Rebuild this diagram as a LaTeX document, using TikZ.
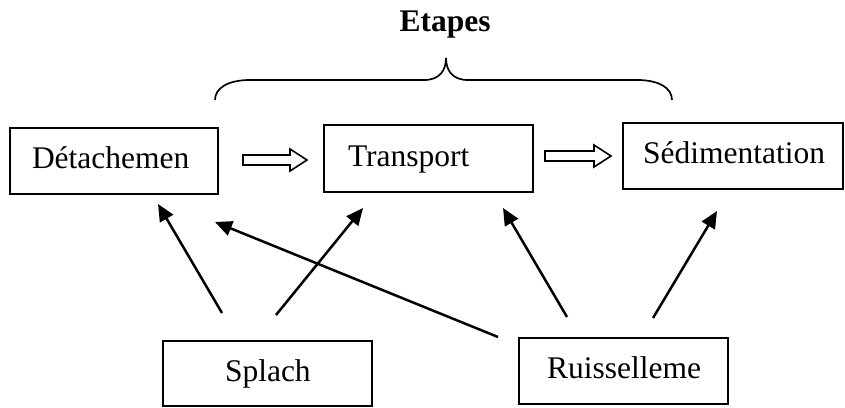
\documentclass[tikz,border=0pt]{standalone}
\usepackage{fontspec}
\setmainfont{Liberation Serif}
\usetikzlibrary{arrows.meta,calc}
\newcommand{\hollowarr}[2]{%
  \draw[hol] ($(#1)+(0,-5)$) -- ($(#2)+(-17,-5)$) -- ($(#2)+(-17,-11)$) -- (#2)
    -- ($(#2)+(-17,11)$) -- ($(#2)+(-17,5)$) -- ($(#1)+(0,5)$) -- cycle;}
\begin{document}
\begin{tikzpicture}[x=1pt,y=-1pt,
  boxnode/.style={draw, line width=1.8pt, outer sep=0pt, anchor=north west,
    inner ysep=0pt, text height=22pt, text depth=7pt,
    font=\fontsize{31.5}{36}\selectfont},
  arr/.style={line width=2.5pt, -{Triangle[length=17pt,width=15pt]}},
  hol/.style={line width=1.6pt, line join=miter, fill=white},
  bracestyle/.style={line width=1.7pt}]
\useasboundingbox (0,0) rectangle (845,407);
\fill[white] (0,0) rectangle (845,407);

% title
\node[font=\bfseries\fontsize{31.5}{36}\selectfont, anchor=base, inner sep=0pt] (title) at (445,31) {Etapes};

% brace
\draw[bracestyle] (215,100) .. controls (215,88) and (228,80) .. (250,80) -- (424,80)
  .. controls (440,80) and (446,70) .. (446,58)
  .. controls (446,70) and (452,80) .. (468,80) -- (637,80)
  .. controls (659,80) and (672,88) .. (672,100);

% boxes
\node[boxnode, inner xsep=22pt, minimum width=208pt, minimum height=66pt] (det) at (10,128) {\makebox[164pt][l]{Détachemen}};
\node[boxnode, inner xsep=24pt, minimum width=209pt, minimum height=67pt] (tra) at (324,125) {\makebox[161pt][l]{Transport}};
\node[boxnode, inner xsep=20pt, minimum width=220pt, minimum height=66pt] (sed) at (623,123) {\makebox[180pt][l]{Sédimentation}};
\node[boxnode, inner xsep=62pt, minimum width=209pt, minimum height=65pt] (spl) at (163,341) {\makebox[85pt][l]{Splach}};
\node[boxnode, inner xsep=28pt, minimum width=209pt, minimum height=66pt] (rui) at (519,338) {\makebox[153pt][l]{Ruisselleme}};

% hollow arrows
\coordinate (h1s) at ($(det.north east)+(25,32)$);
\coordinate (h1e) at ($(tra.north west)+(-17,35)$);
\coordinate (h2s) at ($(tra.north east)+(12,31)$);
\coordinate (h2e) at ($(sed.north west)+(-12,33)$);
\hollowarr{h1s}{h1e}
\hollowarr{h2s}{h2e}

% arrows
\draw[arr] ($(spl.north west)+(59,-28)$) -- ($(det.south west)+(148,10)$);
\draw[arr] ($(spl.north west)+(113,-26)$) -- ($(tra.south west)+(39,16)$);
\draw[arr] ($(rui.north west)+(-21,-1)$) -- ($(det.south west)+(205,28)$);
\draw[arr] ($(rui.north west)+(48,-21)$) -- ($(tra.south west)+(179,16)$);
\draw[arr] ($(rui.north west)+(134,-20)$) -- ($(sed.south west)+(94,22)$);
\end{tikzpicture}
\end{document}
